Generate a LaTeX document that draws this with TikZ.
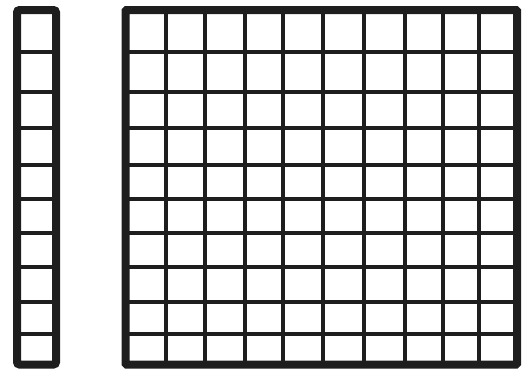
\documentclass[tikz,border=0pt]{standalone}
\definecolor{ink}{HTML}{1E1E1E}

\begin{document}
\begin{tikzpicture}[
  x=1pt, y=-1pt,
  frame/.style={draw=ink, line width=8pt, rounded corners=2.5pt},
  rule/.style={draw=ink, line width=3.4pt},
]
\useasboundingbox (0,0) rectangle (523,370);

%% ---------------- strip : ten ones ----------------
\foreach \r in {52,92,128,165,199,233,267,302,334}
  \draw[rule] (17,\r) -- (56,\r);
\draw[frame] (17,10) rectangle (56,364.5);

%% ---------------- square : hundred ----------------
\foreach \r in {52,92,128,165,199,233,267,302,334}
  \draw[rule] (125.5,\r) -- (517,\r);
\foreach \c in {166,205,245,283,323,364,405,443,479}
  \draw[rule] (\c,10) -- (\c,364.5);
\draw[frame, rounded corners=1pt] (125.5,10) rectangle (517,364.5);

\end{tikzpicture}
\end{document}
